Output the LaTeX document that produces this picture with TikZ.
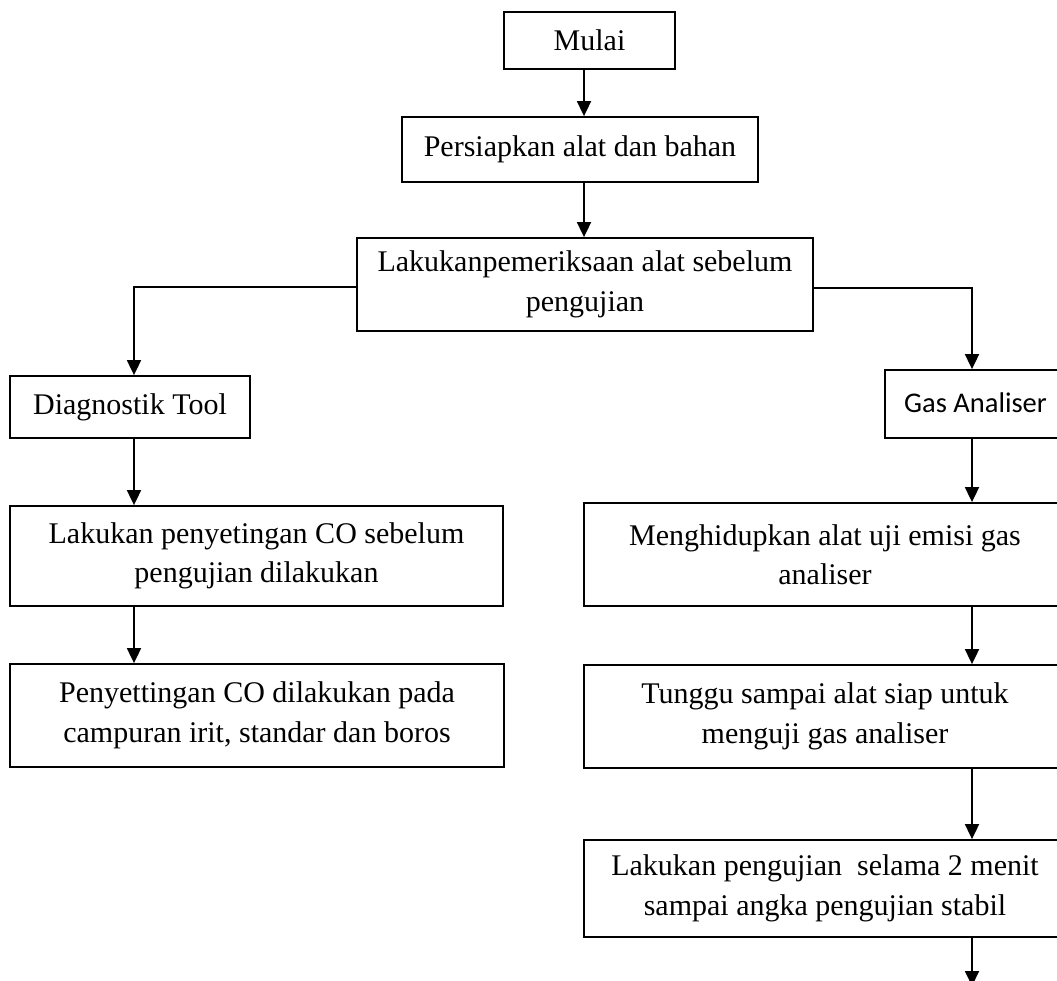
\documentclass[tikz,border=0pt]{standalone}
\usepackage{fontspec}
\setmainfont{Liberation Serif}
\newfontfamily\gasfont{Carlito}
\usetikzlibrary{arrows.meta}
\begin{document}
\begin{tikzpicture}[x=1pt,y=-1pt,
  box/.style={draw,line width=1.8pt,inner sep=0pt,align=center,
    font=\fontsize{30}{39.5}\selectfont},
  arr/.style={line width=1.8pt,-{Triangle[width=14pt,length=15pt]}}]
\path[use as bounding box,clip] (0,0) rectangle (1057,980);
\node[box,minimum width=171pt,minimum height=57pt] (mulai) at (589.5,40.5) {Mulai};
\node[box,minimum width=356pt,minimum height=65pt] (persiap) at (580,149.5) {Persiapkan alat dan bahan};
\node[box,minimum width=456pt,minimum height=93pt] (periksa) at (585,284.5) {Lakukanpemeriksaan alat sebelum\\pengujian};
\node[box,minimum width=240pt,minimum height=62pt] (diag) at (130,407) {Diagnostik Tool};
\node[box,minimum width=181pt,minimum height=68pt,font=\gasfont\fontsize{28.5}{34}\selectfont] (gas) at (975.5,404) {\raisebox{3pt}{Gas Analiser}};
\node[box,minimum width=493pt,minimum height=100pt] (setco) at (256.5,556) {Lakukan penyetingan CO sebelum\\pengujian dilakukan};
\node[box,minimum width=494pt,minimum height=103pt] (penyet) at (257,715.5) {Penyettingan CO dilakukan pada\\campuran irit, standar dan boros};
\node[box,minimum width=482pt,minimum height=103pt] (hidup) at (825,554.5) {Menghidupkan alat uji emisi gas\\analiser};
\node[box,minimum width=482pt,minimum height=103pt] (tunggu) at (825,716.5) {Tunggu sampai alat siap untuk\\menguji gas analiser};
\node[box,minimum width=482pt,minimum height=97pt] (uji) at (825,888.5) {Lakukan pengujian\ \ selama 2 menit\\sampai angka pengujian stabil};
\coordinate (cx) at (584,0);
\coordinate (lx) at (134,287);
\coordinate (rx) at (972,288);
\coordinate (endp) at (972,986);
\draw[arr] (mulai.south -| cx) -- (persiap.north -| cx);
\draw[arr] (persiap.south -| cx) -- (periksa.north -| cx);
\draw[arr] (periksa.west |- lx) -- (lx) -- (diag.north -| lx);
\draw[arr] (periksa.east |- rx) -- (rx) -- (gas.north -| rx);
\draw[arr] (diag.south -| lx) -- (setco.north -| lx);
\draw[arr] (setco.south -| lx) -- (penyet.north -| lx);
\draw[arr] (gas.south -| rx) -- (hidup.north -| rx);
\draw[arr] (hidup.south -| rx) -- (tunggu.north -| rx);
\draw[arr] (tunggu.south -| rx) -- (uji.north -| rx);
\draw[arr] (uji.south -| rx) -- (endp);
\end{tikzpicture}
\end{document}
